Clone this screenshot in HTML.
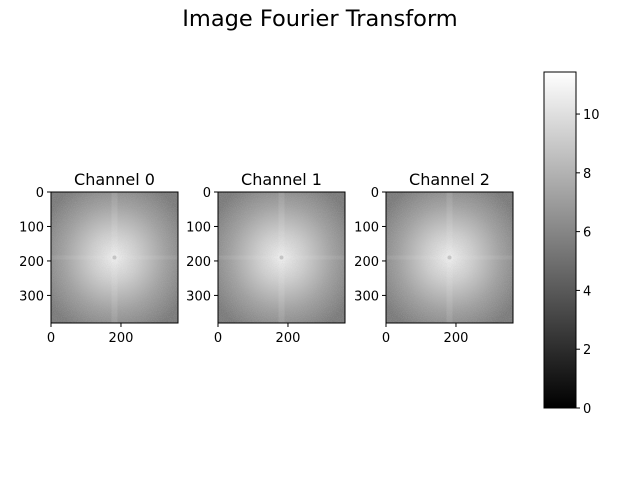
<!DOCTYPE html>
<html><head><meta charset="utf-8"><style>
body{margin:0;background:#fff;}
svg{display:block;font-family:"DejaVu Sans","Liberation Sans",sans-serif;}
</style></head><body>
<svg id="chart" width="640" height="480" viewBox="0 0 640 480">
<defs>
<radialGradient id="rg" cx="0.5" cy="0.5" r="0.62">
<stop offset="0" stop-color="#eeeeee"/>
<stop offset="0.3" stop-color="#cdcdcd"/>
<stop offset="0.65" stop-color="#a0a0a0"/>
<stop offset="1" stop-color="#7a7a7a"/>
</radialGradient>
<linearGradient id="cb" x1="0" y1="1" x2="0" y2="0">
<stop offset="0" stop-color="#000"/><stop offset="1" stop-color="#fff"/>
</linearGradient>
<filter id="noise" x="0" y="0" width="1" height="1"><feTurbulence type="fractalNoise" baseFrequency="1.2" numOctaves="1"/><feColorMatrix type="matrix" values="0 0 0 0 0.5 0 0 0 0 0.5 0 0 0 0 0.5 1.2 0 0 0 -0.45"/></filter>
</defs>
<text x="320" y="26" font-size="22.5" text-anchor="middle">Image Fourier Transform</text>
<g id="panels"></g>
<g>
<rect x="544" y="72" width="32" height="336" fill="url(#cb)" stroke="#000" stroke-width="1"/>
<g id="cbticks"></g>
</g>
</svg>
<script>
const channels=["Channel 0","Channel 1","Channel 2"];
const imgW=363, imgH=380;
const xTicks=[0,200];
const yTicks=[0,100,200,300];
const cbTicks=[0,2,4,6,8,10];
const cbMin=0, cbMax=11.43;
const panelX=[51,218,386];
const NS="http://www.w3.org/2000/svg";
function mk(t,a,p){const e=document.createElementNS(NS,t);for(const k in a)e.setAttribute(k,a[k]);p.appendChild(e);return e;}
const topY=192,pw=127,ph=131;
const pg=document.getElementById('panels');
channels.forEach((c,i)=>{
  const x0=panelX[i];
  const sx=v=>x0+v/imgW*pw, sy=v=>topY+v/imgH*ph;
  const g=mk('g',{},pg);
  
  
  mk('rect',{x:x0,y:topY,width:pw,height:ph,fill:'url(#rg)'},g);
  const cx=sx(imgW/2), cy=sy(imgH/2);
  mk('rect',{x:cx-3,y:topY,width:6,height:ph,fill:'#fff',opacity:0.1},g);
  mk('rect',{x:x0,y:cy-2,width:pw,height:4,fill:'#fff',opacity:0.08},g);
  mk('circle',{cx:cx,cy:cy,r:2,fill:'#aaa',opacity:0.6},g);
  mk('rect',{x:x0,y:topY,width:pw,height:ph,fill:'#808080',filter:'url(#noise)',opacity:0.5},g);
  mk('rect',{x:x0,y:topY,width:pw,height:ph,fill:'none',stroke:'#000','stroke-width':1},g);
  const t=mk('text',{x:x0+pw/2,y:topY-7,'font-size':16,'text-anchor':'middle'},g);t.textContent=c;
  
  
  xTicks.forEach(v=>{const x=sx(v);mk('line',{x1:x,x2:x,y1:topY+ph,y2:topY+ph+4,stroke:'#000'},g);
    const l=mk('text',{x:x,y:topY+ph+19,'font-size':13,'text-anchor':'middle'},g);l.textContent=v;});
  yTicks.forEach(v=>{const y=sy(v);mk('line',{x1:x0-4,x2:x0,y1:y,y2:y,stroke:'#000'},g);
    const l=mk('text',{x:x0-7,y:y+5,'font-size':13,'text-anchor':'end'},g);l.textContent=v;});
});
const cg=document.getElementById('cbticks');
cbTicks.forEach(v=>{const y=408-(v-cbMin)/(cbMax-cbMin)*336;
  mk('line',{x1:576,x2:580,y1:y,y2:y,stroke:'#000'},cg);
  const l=mk('text',{x:583,y:y+5,'font-size':13},cg);l.textContent=v;});
</script>
</body></html>
